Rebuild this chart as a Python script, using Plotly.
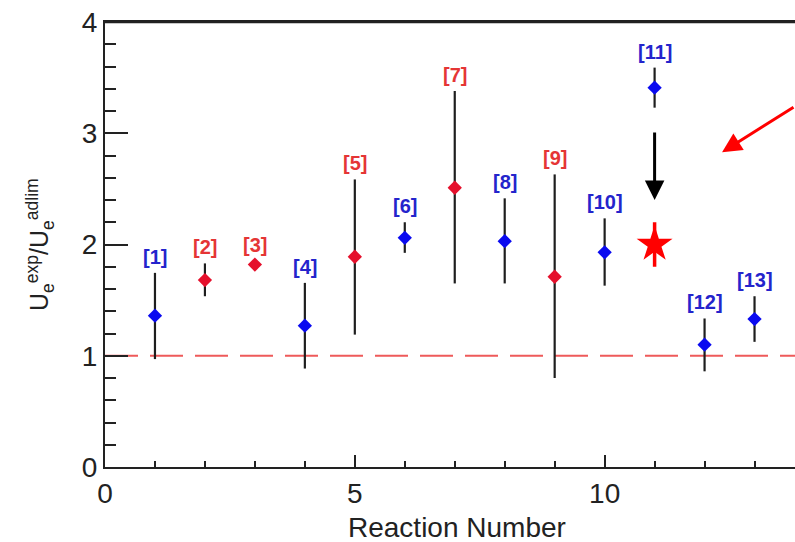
import plotly.graph_objects as go

# ---- data ----
reaction = [1, 2, 3, 4, 5, 6, 7, 8, 9, 10, 11, 12, 13]
ratio = [1.36, 1.68, 1.82, 1.27, 1.89, 2.06, 2.51, 2.03, 1.71, 1.93, 3.41, 1.10, 1.33]
err_up = [0.385, 0.15, 0.03, 0.385, 0.695, 0.14, 0.87, 0.385, 0.92, 0.305, 0.18, 0.235, 0.205]
err_down = [0.39, 0.145, 0.03, 0.385, 0.70, 0.135, 0.86, 0.38, 0.91, 0.30, 0.18, 0.24, 0.205]
group = ["b", "r", "r", "b", "r", "b", "r", "b", "r", "b", "b", "b", "b"]
labels = ["[1]", "[2]", "[3]", "[4]", "[5]", "[6]", "[7]", "[8]", "[9]", "[10]", "[11]", "[12]", "[13]"]

star_x = [11]
star_y = [2.0]
star_err = [0.2]

arrow_from = (11, 3.02)
arrow_to = (11, 2.40)
red_arrow_from = (13.81, 3.243)
red_arrow_to = (12.35, 2.83)

x_range = [0, 13.81]
y_range = [0, 4]

BLUE_M = "#0a0af0"
RED_M = "#e5102c"
BLUE_T = "#2424cc"
RED_T = "#e53535"
AX = "#222222"
FONT = "Liberation Sans"

fig = go.Figure()

for g, col in (("b", BLUE_M), ("r", RED_M)):
    idx = [i for i, gg in enumerate(group) if gg == g]
    fig.add_trace(go.Scatter(
        x=[reaction[i] for i in idx],
        y=[ratio[i] for i in idx],
        mode="markers",
        marker=dict(symbol="diamond", size=11, color=col),
        error_y=dict(type="data", symmetric=False,
                     array=[err_up[i] for i in idx],
                     arrayminus=[err_down[i] for i in idx],
                     color="#1e1e1e", thickness=2.2, width=0),
        showlegend=False,
    ))

fig.add_trace(go.Scatter(
    x=star_x, y=star_y, mode="markers",
    marker=dict(symbol="star", size=27, color="#ff0000", line=dict(width=0)),
    error_y=dict(type="data", array=star_err, color="#ff0000", thickness=3.5, width=0),
    showlegend=False,
))

# reference line at 1
fig.add_shape(type="line", x0=x_range[0], x1=x_range[1], y0=1, y1=1,
              xref="x", yref="y",
              line=dict(color="#ee5a5a", width=2, dash="33px,12px"), layer="below")
# top frame line
fig.add_shape(type="line", x0=0, x1=1, y0=1, y1=1, xref="paper", yref="paper",
              line=dict(color=AX, width=2.5), layer="above")

# labels
for i, t in enumerate(labels):
    fig.add_annotation(x=reaction[i], y=ratio[i] + err_up[i], text="<b>" + t + "</b>",
                       showarrow=False, yshift=16, yanchor="middle",
                       font=dict(family=FONT, size=20,
                                 color=BLUE_T if group[i] == "b" else RED_T))

# black arrow
fig.add_annotation(x=arrow_to[0], y=arrow_to[1], ax=arrow_from[0], ay=arrow_from[1],
                   xref="x", yref="y", axref="x", ayref="y", text="",
                   showarrow=True, arrowhead=2, arrowsize=1.3, arrowwidth=3,
                   arrowcolor="#000000")
# red arrow
fig.add_annotation(x=red_arrow_to[0], y=red_arrow_to[1], ax=red_arrow_from[0], ay=red_arrow_from[1],
                   xref="x", yref="y", axref="x", ayref="y", text="",
                   showarrow=True, arrowhead=2, arrowsize=1.3, arrowwidth=3,
                   arrowcolor="#ff0000")

# y title
fig.add_annotation(xref="paper", yref="paper", x=-0.095, y=0.5,
                   text="U<sub>e</sub><sup>exp</sup>/U<sub>e</sub><sup>adlim</sup>",
                   textangle=-90, showarrow=False, xanchor="center", yanchor="middle",
                   font=dict(family=FONT, size=25, color=AX))
# x title
fig.add_annotation(xref="paper", yref="paper", x=0.5097, y=-0.137,
                   text="Reaction Number", showarrow=False,
                   xanchor="center", yanchor="middle",
                   font=dict(family=FONT, size=28, color=AX))

fig.update_xaxes(range=x_range, dtick=5, tick0=0, ticks="inside", ticklen=12, tickwidth=2,
                 tickcolor=AX, showline=True, linecolor=AX, linewidth=2, mirror=True,
                 showgrid=False, zeroline=False, automargin=False,
                 minor=dict(dtick=1, ticks="inside", ticklen=6, tickwidth=2, tickcolor=AX, showgrid=False),
                 tickfont=dict(family=FONT, size=28, color=AX))
fig.update_yaxes(range=y_range, dtick=1, tick0=0, ticks="inside", ticklen=23, tickwidth=2,
                 tickcolor=AX, showline=True, linecolor=AX, linewidth=2, mirror=False,
                 showgrid=False, zeroline=False, automargin=False,
                 minor=dict(dtick=0.2, ticks="inside", ticklen=11, tickwidth=2, tickcolor=AX, showgrid=False),
                 tickfont=dict(family=FONT, size=28, color=AX))

fig.update_layout(width=795, height=542, margin=dict(l=105, r=0, t=22, b=75, autoexpand=False),
                  plot_bgcolor="white", paper_bgcolor="white",
                  font=dict(family=FONT), hovermode=False)

# remove the default page margin so the figure sits at the window's corner
fig.write_html("out.html",
               config={"displayModeBar": False},
               post_script="document.body.style.margin='0';document.body.style.overflow='hidden';")
